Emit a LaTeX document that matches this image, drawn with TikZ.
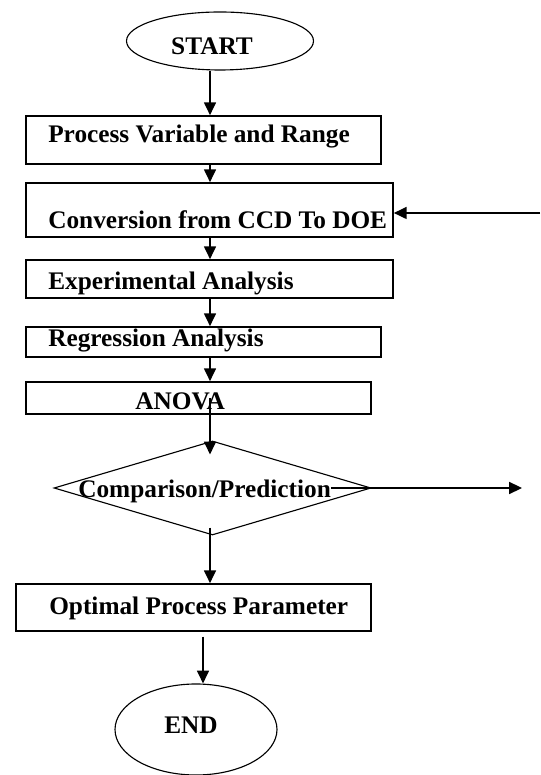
\documentclass[tikz,border=0pt]{standalone}
\usepackage{fontspec}
\setmainfont{Liberation Serif}
\usetikzlibrary{
    shapes.geometric,
    arrows.meta,
    positioning,
    calc
}

\begin{document}
\begin{tikzpicture}[
        box/.style={draw, line width=1.2pt, inner sep=0pt},
        term/.style={draw, ellipse, line width=0.8pt, inner sep=0pt},
        decision/.style={draw, diamond, line width=0.8pt, inner sep=0pt},
        txt/.style={font=\fontsize{18}{21}\selectfont\bfseries, inner sep=0pt},
        arr/.style={line width=1pt, -{Triangle[length=0.32cm, width=0.3cm]}}
    ]
        \useasboundingbox (0, 0) rectangle (13.5, 19.375);

        % Vertical lines of the arrows
        \coordinate (spine) at (5.25, 0);
        \coordinate (spineb) at (5.075, 0);

        % Start
        \node[term, minimum width=4.675cm, minimum height=1.45cm] (start) at (5.5, 18.35) {};
        \node[txt, anchor=base] (starttext) at (5.3, 18.0) {START};

        % Steps
        \node[box, minimum width=8.875cm, minimum height=1.2cm] (pvr) at (5.0875, 15.875) {};
        \node[txt, anchor=base west] (pvrtext) at (1.2, 15.82) {Process Variable and Range};

        \node[box, minimum width=9.175cm, minimum height=1.35cm] (ccd) at (5.2375, 14.125) {};
        \node[txt, anchor=base west] (ccdtext) at (1.2, 13.65) {Conversion from CCD To DOE};

        \node[box, minimum width=9.175cm, minimum height=0.95cm] (exp) at (5.2375, 12.4) {};
        \node[txt, anchor=base west] (exptext) at (1.2, 12.125) {Experimental Analysis};

        \node[box, minimum width=8.875cm, minimum height=0.75cm] (reg) at (5.0875, 10.825) {};
        \node[txt, anchor=base west] (regtext) at (1.2, 10.71) {Regression Analysis};

        \node[box, minimum width=8.625cm, minimum height=0.8cm] (anova) at (4.9625, 9.425) {};
        \node[txt, anchor=base west] (anovatext) at (3.375, 9.125) {ANOVA};

        % Decision
        \node[decision, minimum width=7.925cm, minimum height=2.35cm] (cmp) at (5.3125, 7.175) {};
        \node[txt, anchor=base west] (cmptext) at (1.95, 6.93) {Comparison/Prediction};

        \node[box, minimum width=8.875cm, minimum height=1.175cm] (opt) at (4.8375, 4.1875) {};
        \node[txt, anchor=base west] (opttext) at (1.225, 4.0) {Optimal Process Parameter};

        % End
        \node[term, minimum width=4.05cm, minimum height=2.275cm] (end) at (4.9, 1.1375) {};
        \node[txt, anchor=base] (endtext) at (4.775, 1.025) {END};

        % Free ends on the right
        \coordinate (back) at (13.5, 14.05);
        \coordinate (out) at (13.05, 7.175);

        % Arrows
        \draw[arr] (start.south -| spine) -- (pvr.north -| spine);
        \draw[arr] (pvr.south -| spine) -- (ccd.north -| spine);
        \draw[arr] (ccd.south -| spine) -- (exp.north -| spine);
        \draw[arr] (exp.south -| spine) -- (reg.north -| spine);
        \draw[arr] (reg.south -| spine) -- (anova.north -| spine);
        \draw[arr] (anova.center -| spine) -- ($(cmp.north -| spine)+(0, -0.35)$);
        \draw[arr] ($(cmp.south -| spine)+(0, 0.2)$) -- (opt.north -| spine);
        \draw[arr] ($(opt.south -| spineb)+(0, -0.12)$) -- (end.north -| spineb);
        \draw[arr] (cmptext.east |- out) -- (out);
        \draw[arr] (back) -- (back -| ccd.east);
    \end{tikzpicture}
\end{document}
